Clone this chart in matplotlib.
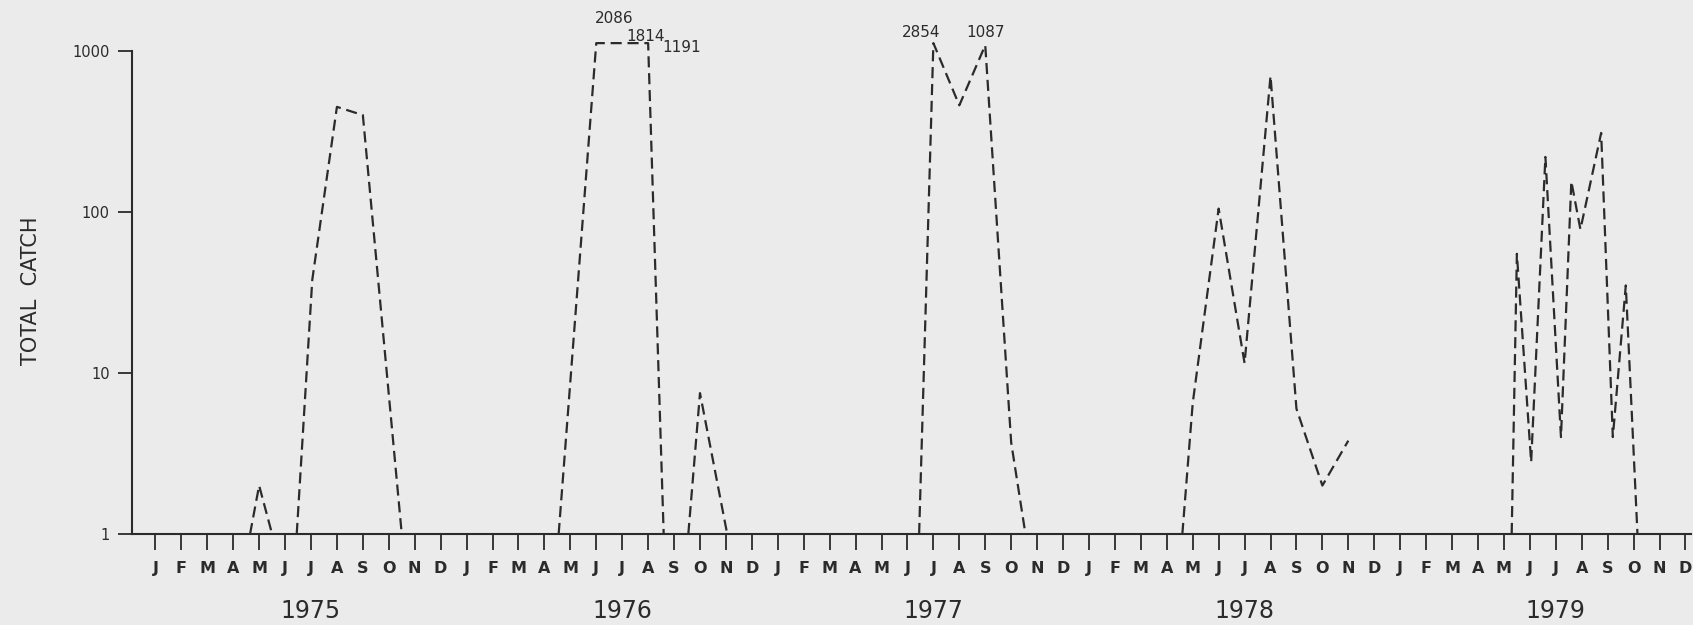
import numpy as np
import matplotlib
matplotlib.use("Agg")
import matplotlib.pyplot as plt
import matplotlib.transforms as mtransforms

# position in months counted from January 1975 (0 = Jan 1975)
month_pos = [3.65, 4.0, 4.5, 5.45, 6.05, 7.0, 8.0, 9.5,
             15.55, 17.0, 18.0, 19.0, 19.6, 20.55, 21.0, 22.05,
             29.45, 30.0, 31.0, 32.0, 33.0, 33.55,
             39.6, 40.0, 41.0, 42.0, 43.0, 44.0, 45.0, 46.0,
             52.3, 52.5, 53.05, 53.6, 54.2, 54.6, 54.95, 55.75, 56.2, 56.7, 57.15]
# total catch (0 = no catch, drawn on the axis)
catch = [0, 2, 0, 0, 38, 450, 400, 0,
         0, 2086, 1814, 1191, 0, 0, 7.5, 0,
         0, 2854, 460, 1087, 3.7, 0,
         0, 6.5, 105, 11.5, 700, 6, 2, 3.8,
         0, 55, 2.8, 220, 4, 155, 78, 310, 4, 35, 0]

# values off the scale, printed above the curve
big_pos = [17.0, 18.0, 19.0, 30.0, 32.0]
big_val = [2086, 1814, 1191, 2854, 1087]
big_offset = [(13, 18), (17, 5), (24, -3), (-9, 8), (0, 9)]

month_letters = list("JFMAMJJASOND") * 5
years = ["1975", "1976", "1977", "1978", "1979"]

cap = 1120
bg = "#ebebeb"
ink = "#2b2b2b"

plt.rcParams["font.family"] = "DejaVu Sans"

fig = plt.figure(figsize=(16.93, 6.25), dpi=100, facecolor=bg)
ax = fig.add_axes([0.078, 0.1456, 0.9206, 0.85])
ax.set_facecolor(bg)

# split the series into runs, breaking on consecutive zeros and on year change
x = np.array(month_pos)
y = np.array(catch, dtype=float)
runs = []
cur = [0]
for i in range(1, len(x)):
    same_year = int(x[i] // 12) == int(x[i - 1] // 12)
    if (y[i] == 0 and y[i - 1] == 0) or not same_year:
        runs.append(cur)
        cur = [i]
    else:
        cur.append(i)
runs.append(cur)

for r in runs:
    if len(r) < 2:
        continue
    yy = np.clip(np.where(y[r] == 0, 1, y[r]), 1, cap)
    ax.plot(x[r], yy, color=ink, lw=1.6, linestyle=(0, (5, 2.6)),
            dash_capstyle="butt", clip_on=False)

for p, v, off in zip(big_pos, big_val, big_offset):
    ax.annotate(str(v), (p, min(v, cap)), xytext=off, textcoords="offset points",
                ha="center", va="center", fontsize=11, color=ink,
                annotation_clip=False)

ax.set_yscale("log")
ax.set_ylim(1, 10 ** 3.3)
ax.set_xlim(-0.9, 59.2)
ax.set_yticks([1, 10, 100, 1000])
ax.set_yticklabels(["1", "10", "100", "1000"])
ax.minorticks_off()
ax.set_xticks(range(60))
ax.set_xticklabels(month_letters, fontsize=11.5, fontweight="bold", color=ink)

ax.spines["top"].set_visible(False)
ax.spines["right"].set_visible(False)
ax.spines["left"].set_bounds(1, 1000)
for s in ("left", "bottom"):
    ax.spines[s].set_color(ink)
    ax.spines[s].set_linewidth(1.5)

ax.tick_params(axis="x", direction="out", length=11.5, width=1.3, pad=8, colors=ink)
ax.tick_params(axis="y", direction="out", length=10, width=1.3, pad=6,
               colors=ink, labelsize=10.5)

trans = mtransforms.blended_transform_factory(ax.transData, ax.transAxes)
for k, yr in enumerate(years):
    ax.text(12 * k + 6, -0.145, yr, transform=trans, ha="center", va="center",
            fontsize=17, color=ink)

ax.set_ylabel("TOTAL  CATCH", fontsize=15, color=ink)
ax.yaxis.set_label_coords(-0.0583, 0.4576)

fig.savefig("out.png", dpi=100, facecolor=bg)
